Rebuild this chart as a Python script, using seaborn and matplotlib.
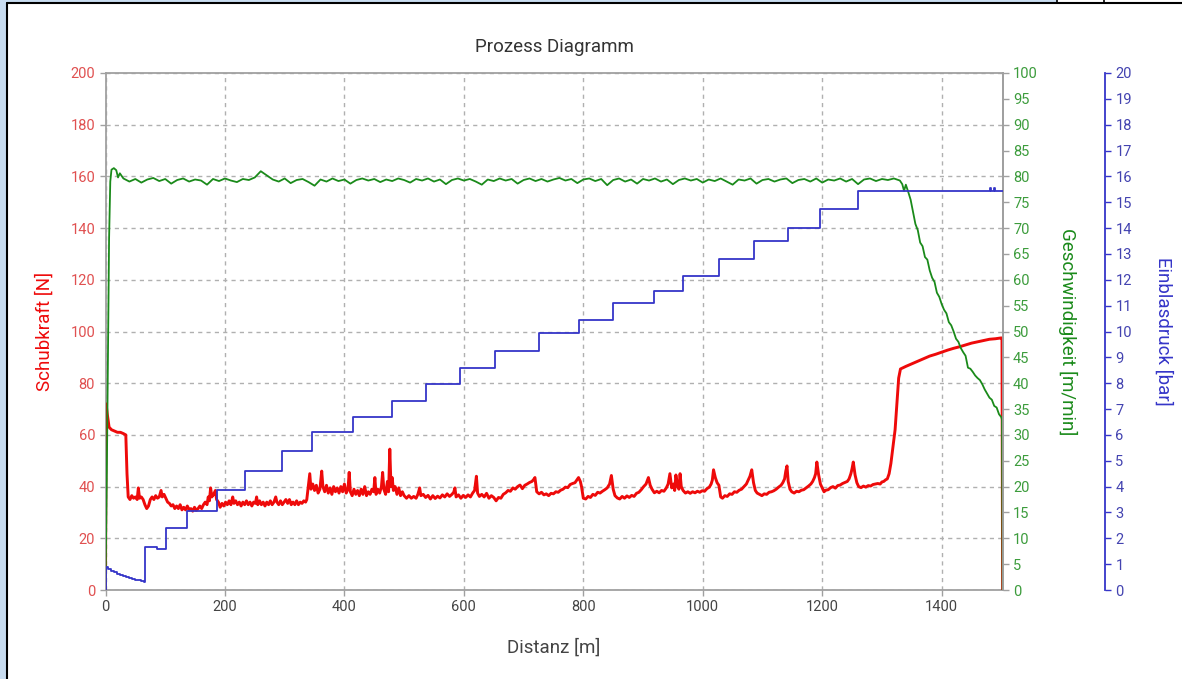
import numpy as np
import pandas as pd
import seaborn as sns
import matplotlib
matplotlib.use("Agg")
import matplotlib.pyplot as plt
from matplotlib.patches import Rectangle
from matplotlib.lines import Line2D

# ---------------- data ----------------
red_dist = [0, 1, 3, 6, 10, 15, 20, 25, 30, 34, 36,
            38, 41, 44, 47, 50, 53, 55, 57, 60, 63, 66, 69, 72, 75, 78, 81, 84, 87, 90, 93, 95, 98,
            101, 104, 107, 110, 113, 116, 119, 122, 125, 128, 131, 134, 137, 140, 143, 146, 149, 152,
            155, 158, 161, 164, 167, 170, 172, 174, 176, 178, 181, 184, 186, 189, 192, 195, 198, 201,
            204, 207, 210, 213, 215, 218, 221, 224, 227, 230, 233, 236, 239, 242, 245, 248, 251, 253,
            255, 258, 261, 264, 267, 270, 273, 276, 279, 282, 285, 287, 290, 293, 296, 299, 302, 305,
            308, 311, 314, 317, 320, 323, 326, 329, 332, 335, 337,
            340, 342, 344, 347, 350, 353, 356, 359, 362, 364, 367, 370, 373, 376, 379, 382, 385, 388,
            391, 394, 397, 400, 403, 406, 408, 410, 413, 416, 419, 422, 425, 428, 431, 434, 437, 440,
            443, 446, 449, 451, 453, 456, 459, 462, 464, 466, 469, 472, 474, 476, 478, 480, 482, 485,
            488, 491, 494, 497,
            500, 504, 508, 512, 516, 520, 523, 526, 528, 532, 536, 540, 544, 548, 552, 556, 560, 564,
            568, 572, 576, 580, 583, 585, 587, 591, 595, 599, 603, 607, 611, 615, 618, 621, 623, 626,
            630, 634, 638, 642, 646, 650, 654, 658, 662, 666, 670, 674, 678, 682, 686, 690, 694, 698,
            702, 706, 710, 714, 717, 719, 722, 726, 730, 734, 738, 742, 746, 750, 754, 758, 762, 766,
            770, 774, 778, 782, 786, 789, 792, 795, 797, 800, 804, 808, 812, 816, 820, 824, 828, 832,
            836, 840, 844, 847, 850, 853, 857, 861, 865, 869, 873, 877, 881, 885, 889, 893, 897, 901,
            905, 909, 912, 915, 919, 923, 927, 931, 935, 939, 942, 945, 948, 951, 953, 955, 958, 960,
            962, 964, 967, 971, 975, 979, 983, 987, 991, 995, 999, 1003, 1007, 1011, 1014, 1016, 1018,
            1021, 1024, 1027, 1030, 1033, 1037, 1041, 1045, 1049, 1053, 1057, 1061, 1065, 1069, 1073,
            1076, 1079, 1082, 1085, 1088, 1091, 1095, 1099, 1103, 1107, 1111, 1115, 1119, 1123, 1127,
            1131, 1134, 1137, 1139, 1141, 1143, 1146, 1149, 1153, 1157, 1161, 1165, 1169, 1173, 1177,
            1181, 1184, 1187, 1189, 1191, 1194, 1197, 1200, 1203, 1206, 1210, 1214, 1218, 1222, 1226,
            1230, 1234, 1238, 1242, 1245, 1248, 1250, 1252, 1255, 1258, 1261, 1265, 1269, 1273, 1277,
            1281, 1285, 1289, 1293, 1297, 1300, 1303, 1306, 1309, 1312, 1315, 1319, 1322, 1325,
            1328, 1331, 1340, 1350, 1360, 1370, 1380, 1390, 1400, 1410, 1420, 1430, 1440, 1450, 1460,
            1470, 1480, 1490, 1499, 1501, 1502]
red_force = [0, 72, 68, 63, 62, 61.5, 61, 61, 60.5, 60, 45,
             36, 35, 36.5, 35.5, 36, 35, 39.5, 35.5, 36, 35, 33, 31.5, 32.5, 35, 36, 35, 36.5, 35.5,
             36, 38.5, 36, 37, 35.5, 34, 33.5, 32.5, 33, 31.5, 32.5, 31.5, 33, 31, 32, 31, 32.5, 31,
             31.5, 30.5, 32, 30.8, 31.5, 32.5, 31.5, 33, 34, 33, 36, 34.5, 39.5, 36, 37, 38.5, 35, 34,
             32, 33.5, 32.5, 34, 33, 34.5, 33, 36, 33.5, 34.5, 33, 34, 32.5, 34, 33, 34.5, 33, 34,
             32.5, 34, 33.5, 36, 33, 34.5, 33, 34, 32.5, 34, 33, 34.5, 33, 34, 36, 34, 33, 34.5, 33,
             34, 35, 33.5, 35, 33, 34, 33, 34.5, 33, 34, 33.5, 34.5, 34, 35,
             41, 45, 39, 41, 38.5, 40.5, 37.5, 39, 46, 40, 38, 40.5, 37.5, 39.5, 37, 40, 38, 39.5,
             37.5, 40, 38, 41, 37.5, 39, 45.5, 38, 36.5, 39, 37, 38.5, 36.5, 39, 37, 40, 36.5, 38,
             37, 39, 38, 43.5, 37, 39, 37.5, 40, 45.5, 39, 37, 42, 38, 54.5, 40, 43.5, 38.5, 40,
             37, 39.5, 36.5, 38,
             36.5, 35.5, 36.5, 35.5, 36.2, 35.5, 37, 39.5, 36.5, 37, 35.8, 36.6, 35.2, 36.5, 35.4,
             36.3, 35.6, 36.8, 36, 37.2, 36.2, 37, 37.8, 39.5, 36, 36.8, 35.5, 36.6, 35.8, 36.8, 36,
             37.6, 38.5, 44, 37.5, 36.2, 37, 36, 37.4, 35.5, 36.5, 35.8, 34.5, 35.8, 35.5, 37, 37.6,
             38.5, 38.2, 39.5, 39, 40, 40.6, 39.2, 40.5, 41, 41.6, 42, 42.8, 43.5, 38, 37.2, 37.8,
             36.8, 37.2, 36.5, 37.4, 37.2, 38, 37.8, 38.6, 39, 39.8, 39.6, 40.8, 41.2, 41.5, 42.5,
             43.5, 42, 40, 35.5, 35.2, 36.2, 35.8, 37, 36.6, 37.8, 37.5, 38.2, 38.8, 39.5, 41, 44.3,
             39, 36.5, 35.6, 35.2, 36.2, 35.5, 36.4, 35.8, 36.6, 36.2, 37.4, 37.8, 38.8, 40, 41,
             43.5, 40.5, 39, 37.6, 38.2, 37.6, 38.5, 38.2, 39.5, 41, 45, 39.5, 41, 38.5, 44.5, 40, 39,
             45, 40, 38.5, 37.5, 38, 37.4, 38, 37.6, 38.2, 37.8, 38.4, 38.2, 39.2, 39.8, 41, 42.5,
             46.5, 43.5, 41.5, 40.5, 36, 35.5, 36.5, 36.2, 37.2, 37, 38, 37.8, 38.6, 39, 40, 41, 42.5,
             44, 46.5, 41.5, 38.5, 37.5, 37, 36.5, 37.2, 37, 37.8, 38, 38.4, 39, 39.8, 40.5, 41.5, 43,
             46, 48, 42, 39, 38, 37.5, 38.2, 38, 38.6, 38.8, 39.5, 40.2, 41, 42, 43.5, 45, 49.5, 44.5,
             41, 39.5, 38, 38.6, 38.8, 39.6, 40, 39.4, 40.4, 40.6, 41.2, 41.6, 42, 43, 45, 47, 49.5,
             44.5, 41.5, 40, 39.6, 40.2, 39.8, 40.4, 40.2, 40.8, 41, 41.2, 41, 41.8, 42, 42.6, 43, 45,
             49, 56.5, 62, 72, 82, 85.5, 86.5, 87.5, 88.5, 89.5, 90.5, 91.2, 92, 92.8, 93.5, 94.1,
             94.8, 95.5, 96, 96.5, 97, 97.2, 97.5, 97.5, 0]

green_dist = [0, 2, 4, 6, 8, 10, 14, 18, 21, 24,
              30, 40, 50, 60, 70, 80, 90, 100, 110, 120,
              130, 140, 150, 160, 170, 180, 190, 200, 210, 220,
              230, 240, 250, 260, 270, 280, 290, 300, 310, 320,
              330, 340, 350, 360, 370, 380, 390, 400, 410, 420,
              430, 440, 450, 460, 470, 480, 490, 500, 510, 520,
              530, 540, 550, 560, 570, 580, 590, 600, 610, 620,
              630, 640, 650, 660, 670, 680, 690, 700, 710, 720,
              730, 740, 750, 760, 770, 780, 790, 800, 810, 820,
              830, 840, 850, 860, 870, 880, 890, 900, 910, 920,
              930, 940, 950, 960, 970, 980, 990, 1000, 1010, 1020,
              1030, 1040, 1050, 1060, 1070, 1080, 1090, 1100, 1110, 1120,
              1130, 1140, 1150, 1160, 1170, 1180, 1190, 1200, 1210, 1220,
              1230, 1240, 1250, 1260, 1270, 1280, 1290, 1300, 1310, 1320,
              1330, 1334, 1337, 1340, 1344, 1348, 1352, 1356, 1360, 1364, 1368, 1372, 1376, 1380,
              1384, 1388, 1392, 1396, 1400, 1404, 1408, 1412, 1416, 1420, 1424, 1428, 1432, 1436,
              1440, 1444, 1448, 1452, 1456, 1460, 1464, 1468, 1472, 1476, 1480, 1484, 1488, 1492,
              1496, 1500, 1501, 1502]
green_speed = [0, 20, 45, 68, 79, 81.3, 81.6, 81.2, 79.8, 80.6,
               79.6, 79.0, 79.5, 78.8, 79.4, 79.7, 79.1, 79.5, 78.6, 79.3,
               79.6, 79.0, 79.4, 79.2, 78.4, 79.5, 79.1, 79.6, 79.2, 78.9,
               79.5, 79.3, 79.8, 81.0, 80.2, 79.4, 79.0, 79.6, 78.7, 79.3,
               79.5, 78.9, 78.2, 79.4, 79.0, 79.6, 79.1, 79.4, 78.6, 79.3,
               79.6, 79.2, 79.5, 78.9, 79.4, 79.1, 79.6, 79.3, 78.8, 79.5,
               79.2, 79.6, 79.0, 79.4, 78.5, 79.3, 79.6, 79.2, 79.5, 79.0,
               78.4, 79.4, 79.1, 79.6, 79.2, 79.5, 78.6, 79.3, 79.6, 79.1,
               79.5, 79.0, 79.4, 79.7, 79.2, 79.5, 78.7, 79.4, 79.6, 79.1,
               79.5, 78.3, 79.3, 79.6, 79.0, 79.4, 78.6, 79.5, 79.2, 79.6,
               79.0, 79.4, 78.5, 79.3, 79.6, 79.2, 79.5, 78.8, 79.4, 79.1,
               79.6, 79.0, 78.4, 79.4, 79.2, 79.6, 78.6, 79.3, 79.5, 79.0,
               79.4, 79.6, 78.7, 79.3, 79.5, 79.0, 79.6, 78.8, 79.4, 79.2,
               79.6, 79.0, 79.5, 78.5, 79.4, 79.6, 79.1, 79.5, 79.3, 79.6,
               79.2, 78.5, 77.2, 78.4, 77.0, 75.5, 73.2, 70.8, 69.6, 67.2, 66.5, 64.4, 63.9, 61.8,
               60.4, 59.6, 57.5, 56.7, 55.3, 54.2, 53.5, 51.8, 51.2, 50.0, 48.6, 48.0, 46.8, 46.0,
               45.3, 43.0, 42.8, 42.2, 41.5, 41.0, 40.6, 39.8, 38.8, 38.0, 37.2, 36.8, 35.6, 35.3,
               34.0, 33.4, 32.9, 0]

blue_dist = [0, 0.5, 5, 10, 15, 20, 25, 30, 35, 40, 45, 50, 55, 60, 65,
             66, 86, 102, 136, 186, 233, 295, 345, 415, 480, 537, 593, 652, 726, 793, 850, 918,
             967, 1028, 1086, 1142, 1196, 1260, 1481, 1483, 1487, 1489, 1502]
blue_bar = [0, 0.88, 0.8, 0.74, 0.68, 0.62, 0.57, 0.53, 0.49, 0.46, 0.43, 0.4, 0.37, 0.34, 0.3,
            1.68, 1.6, 2.41, 3.06, 3.87, 4.62, 5.39, 6.10, 6.70, 7.32, 7.97, 8.59, 9.26, 9.94,
            10.44, 11.09, 11.58, 12.15, 12.79, 13.50, 14.02, 14.73, 15.45, 15.56, 15.45, 15.56,
            15.45, 15.45]

x_ticks = [0, 200, 400, 600, 800, 1000, 1200, 1400]
left_ticks = [0, 20, 40, 60, 80, 100, 120, 140, 160, 180, 200]
green_ticks = list(range(0, 101, 5))
blue_ticks = list(range(0, 21, 1))

# ---------------- style ----------------
sns.set_style("white")
plt.rcParams['font.family'] = ['Roboto', 'DejaVu Sans']

RED = "#ee0a0a"
GREEN = "#1a8a1a"
BLUE = "#3535c8"
RED_T = "#e05050"
GREEN_T = "#3c9c3c"
BLUE_T = "#4343b0"
GRAY = "#444444"

fig = plt.figure(figsize=(11.82, 6.79), dpi=100)
fig.patch.set_facecolor("#c8dcf0")
W, H = 1182, 679
fig.patches.append(Rectangle((7 / W, 0), 1 - 7 / W, 1 - 3 / H, transform=fig.transFigure,
                             facecolor="white", edgecolor="none", zorder=-10))
fig.patches.append(Rectangle((1057 / W, 1 - 3 / H), 1 - 1057 / W, 3 / H, transform=fig.transFigure,
                             facecolor="white", edgecolor="none", zorder=-10))
fig.lines.append(Line2D([7 / W, 7 / W], [0, 1 - 3 / H], transform=fig.transFigure, color="black", lw=1.5))
fig.lines.append(Line2D([7 / W, 1], [1 - 3 / H, 1 - 3 / H], transform=fig.transFigure, color="black", lw=1.5))
for xx in (1057, 1104):
    fig.lines.append(Line2D([xx / W, xx / W], [1 - 3 / H, 1], transform=fig.transFigure, color="black", lw=1.2))

left, right, bottom, top = 105.5 / W, 1002.6 / W, 1 - 590 / H, 1 - 73 / H
ax = fig.add_axes([left, bottom, right - left, top - bottom])
ax2 = ax.twinx()
ax3 = ax.twinx()

df_red = pd.DataFrame({"Distanz": red_dist, "Schubkraft": red_force})
df_green = pd.DataFrame({"Distanz": green_dist, "Geschwindigkeit": green_speed})
df_blue = pd.DataFrame({"Distanz": blue_dist, "Einblasdruck": blue_bar})

sns.lineplot(data=df_red, x="Distanz", y="Schubkraft", ax=ax, color=RED, lw=2.1,
             estimator=None, sort=False, zorder=3)
sns.lineplot(data=df_green, x="Distanz", y="Geschwindigkeit", ax=ax2, color=GREEN, lw=1.3,
             estimator=None, sort=False)
sns.lineplot(data=df_blue, x="Distanz", y="Einblasdruck", ax=ax3, color=BLUE, lw=1.3,
             estimator=None, sort=False, drawstyle="steps-post")

for a in (ax, ax2, ax3):
    a.set_xlim(0, 1502)
ax.set_ylim(0, 200)
ax2.set_ylim(0, 100)
ax3.set_ylim(0, 20)

ax.set_xticks(x_ticks)
ax.set_xticklabels([str(v) for v in x_ticks])
ax.set_yticks(left_ticks)
ax.set_yticklabels([str(v) for v in left_ticks])
ax2.set_yticks(green_ticks)
ax2.set_yticklabels([str(v) for v in green_ticks])
ax3.set_yticks(blue_ticks)
ax3.set_yticklabels([str(v) for v in blue_ticks])

ax.grid(True, color="#b0b0b0", linestyle=(0, (3, 3)), linewidth=1.0)
ax.set_axisbelow(True)

for s in ax.spines.values():
    s.set_color("#a0a0a0")
    s.set_linewidth(1.3)
for s in ("left", "top", "bottom"):
    ax2.spines[s].set_visible(False)
    ax3.spines[s].set_visible(False)
ax2.spines["right"].set_color("#a0a0a0")
ax2.spines["right"].set_linewidth(1.3)
ax3.spines["right"].set_position(("axes", (1105 - 105.5) / (1002.6 - 105.5)))
ax3.spines["right"].set_color(BLUE)
ax3.spines["right"].set_linewidth(1.3)

ax.tick_params(axis="y", colors="#a0a0a0", labelcolor=RED_T, labelsize=10.5, length=4, width=1, direction="out", left=True)
ax.tick_params(axis="x", colors="#a0a0a0", labelcolor=GRAY, labelsize=10.5, length=4, width=1, direction="out", bottom=True)
ax2.tick_params(axis="y", colors="#a0a0a0", labelcolor=GREEN_T, labelsize=10.5, length=4, width=1, direction="out", right=True)
ax3.tick_params(axis="y", colors=BLUE, labelcolor=BLUE_T, labelsize=10.5, length=4, width=1, direction="out", right=True)

ax.set_xlabel("Distanz [m]", fontsize=13.5, color=GRAY, labelpad=17)
ax.set_ylabel("Schubkraft [N]", fontsize=13.5, color=RED, labelpad=12)
ax2.set_ylabel("Geschwindigkeit [m/min]", fontsize=13.5, color=GREEN, rotation=270, labelpad=28)
ax3.set_ylabel("Einblasdruck [bar]", fontsize=13.5, color=BLUE, rotation=270, labelpad=29)
ax.set_title("Prozess Diagramm", fontsize=13.5, color="#333333", pad=15)

fig.savefig("out.png", dpi=100, facecolor=fig.get_facecolor())
